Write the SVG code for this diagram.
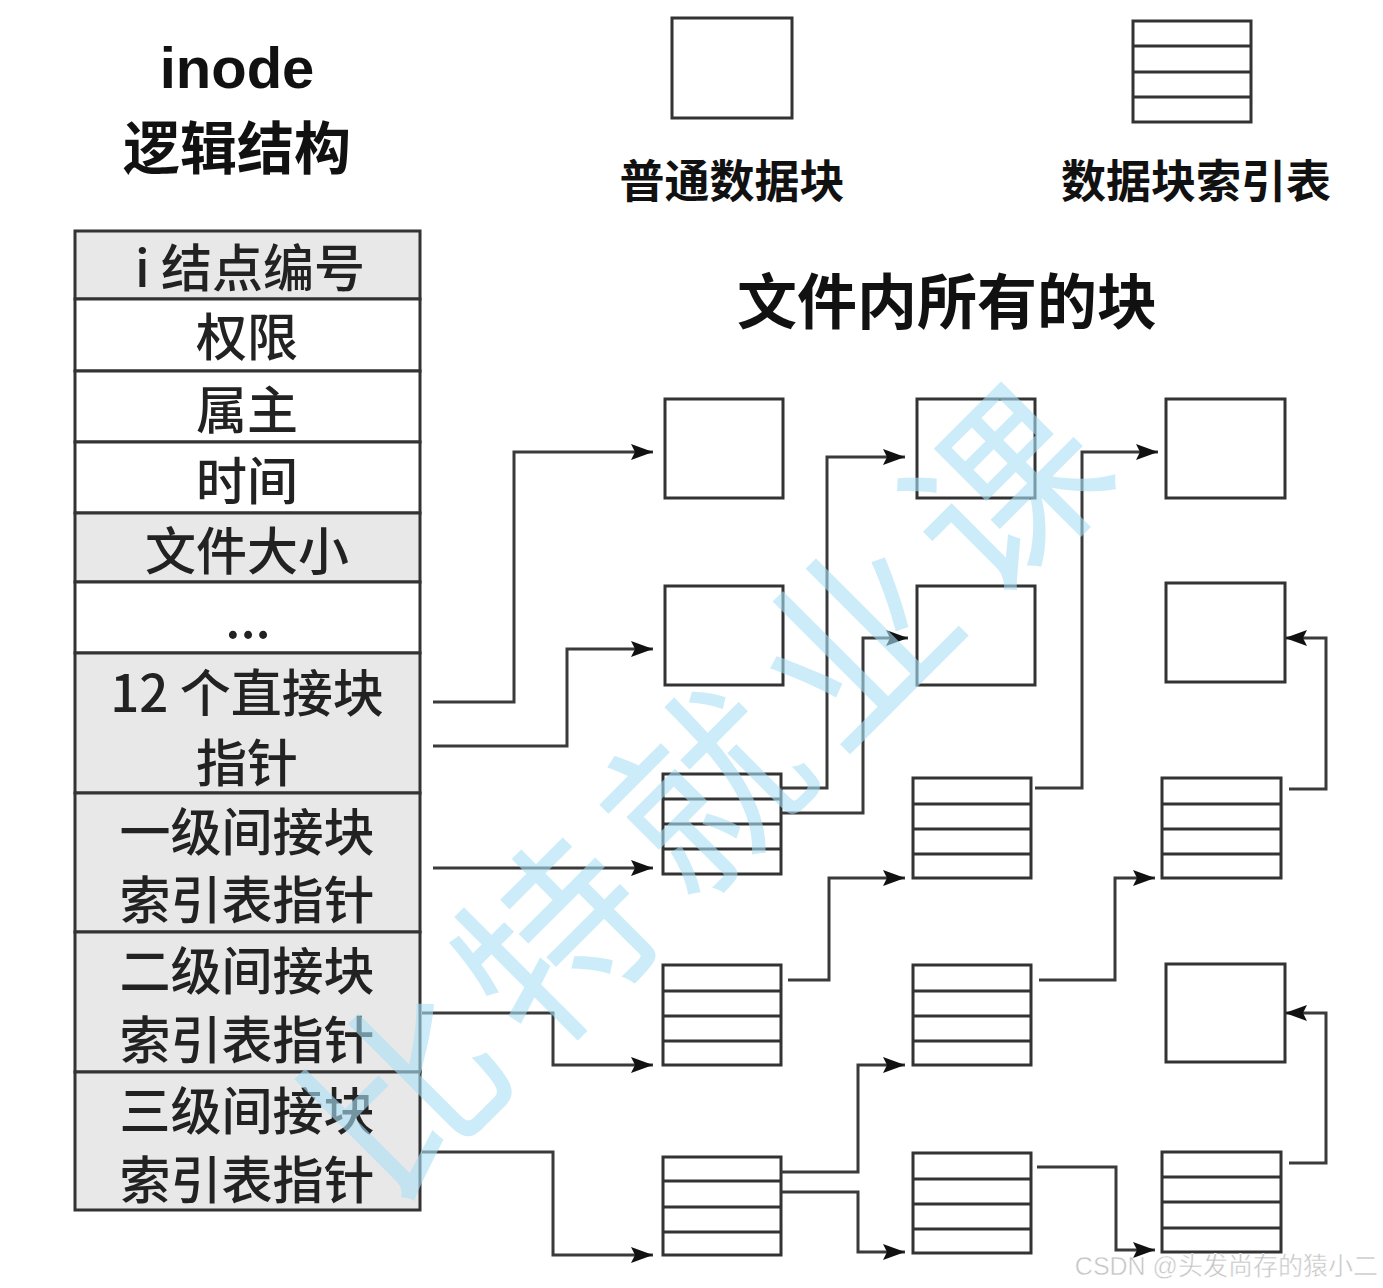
<svg xmlns="http://www.w3.org/2000/svg" width="1383" height="1288" viewBox="0 0 1383 1288">
<defs>
<style>
.cell{stroke:#333;stroke-width:3;}
.g{fill:#e8e8e8;}
.w{fill:#fff;}
.blk{fill:#fff;stroke:#333;stroke-width:3;}
.ln{stroke:#333;stroke-width:3;fill:none;}
.cn{stroke:#3a3a3a;stroke-width:3;fill:none;marker-end:url(#ah);}
.tt{font-family:"Noto Sans CJK SC","Noto Sans",sans-serif;fill:#222;text-anchor:middle;dominant-baseline:central;font-size:51px;font-weight:500;}
.hd{font-family:"Noto Sans CJK SC","Noto Sans",sans-serif;fill:#111;text-anchor:middle;dominant-baseline:central;font-weight:700;}
</style>
<marker id="ah" markerUnits="userSpaceOnUse" markerWidth="22" markerHeight="18" refX="22" refY="9" orient="auto">
<path d="M0,1 L22,9 L0,17 L4,9 z" fill="#111"/>
</marker>
</defs>
<rect width="1383" height="1288" fill="#fff"/>

<g id="title">
<text class="hd" x="237" y="67" font-size="58" style="font-family:'Liberation Sans','Noto Sans',sans-serif">inode</text>
<text class="hd" x="237" y="144" font-size="57">逻辑结构</text>
</g>

<g id="inode-table">
<rect class="cell g" x="75" y="231" width="345" height="68"/>
<rect class="cell w" x="75" y="299" width="345" height="72"/>
<rect class="cell w" x="75" y="371" width="345" height="71"/>
<rect class="cell w" x="75" y="442" width="345" height="71"/>
<rect class="cell g" x="75" y="513" width="345" height="69"/>
<rect class="cell w" x="75" y="582" width="345" height="71"/>
<rect class="cell g" x="75" y="653" width="345" height="140"/>
<rect class="cell g" x="75" y="793" width="345" height="139"/>
<rect class="cell g" x="75" y="932" width="345" height="140"/>
<rect class="cell g" x="75" y="1072" width="345" height="138"/>
<text class="tt" x="250" y="265">i 结点编号</text>
<text class="tt" x="247" y="334">权限</text>
<text class="tt" x="247" y="407">属主</text>
<text class="tt" x="247" y="478">时间</text>
<text class="tt" x="247" y="548">文件大小</text>
<text class="tt" x="248" y="616" font-size="34">...</text>
<text class="tt" x="247" y="690">12 个直接块</text>
<text class="tt" x="247" y="760">指针</text>
<text class="tt" x="247" y="829">一级间接块</text>
<text class="tt" x="247" y="897">索引表指针</text>
<text class="tt" x="247" y="968">二级间接块</text>
<text class="tt" x="247" y="1037">索引表指针</text>
<text class="tt" x="247" y="1108">三级间接块</text>
<text class="tt" x="247" y="1177">索引表指针</text>
</g>

<g id="legend-normal">
<rect class="blk" x="672" y="18" width="120" height="100"/>
<text class="hd" x="732" y="178" font-size="45">普通数据块</text>
</g>
<g id="legend-index">
<rect class="blk" x="1133" y="21" width="118" height="101"/>
<path class="ln" d="M1133,46H1251M1133,72H1251M1133,97H1251"/>
<text class="hd" x="1196" y="178" font-size="45">数据块索引表</text>
</g>

<g id="section-title">
<text class="hd" x="947" y="297" font-size="60">文件内所有的块</text>
</g>

<g id="blocks">
<g id="A1"><rect class="blk" x="665" y="399" width="118" height="99"/></g>
<g id="A2"><rect class="blk" x="665" y="586" width="118" height="99"/></g>
<g id="A3"><rect class="blk" x="663" y="774" width="118" height="100"/><path class="ln" d="M663,799H781M663,824H781M663,849H781"/></g>
<g id="A4"><rect class="blk" x="663" y="965" width="118" height="100"/><path class="ln" d="M663,991H781M663,1016H781M663,1041H781"/></g>
<g id="A5"><rect class="blk" x="663" y="1157" width="118" height="98"/><path class="ln" d="M663,1181H781M663,1207H781M663,1232H781"/></g>

<g id="B1"><rect class="blk" x="917" y="399" width="118" height="99"/></g>
<g id="B2"><rect class="blk" x="917" y="586" width="118" height="99"/></g>
<g id="B3"><rect class="blk" x="913" y="778" width="118" height="100"/><path class="ln" d="M913,804H1031M913,829H1031M913,854H1031"/></g>
<g id="B4"><rect class="blk" x="913" y="965" width="118" height="100"/><path class="ln" d="M913,991H1031M913,1016H1031M913,1041H1031"/></g>
<g id="B5"><rect class="blk" x="913" y="1153" width="118" height="100"/><path class="ln" d="M913,1179H1031M913,1204H1031M913,1229H1031"/></g>

<g id="C1"><rect class="blk" x="1166" y="399" width="119" height="99"/></g>
<g id="C2"><rect class="blk" x="1166" y="583" width="119" height="99"/></g>
<g id="C3"><rect class="blk" x="1162" y="778" width="119" height="100"/><path class="ln" d="M1162,804H1281M1162,829H1281M1162,854H1281"/></g>
<g id="C4"><rect class="blk" x="1166" y="964" width="119" height="98"/></g>
<g id="C5"><rect class="blk" x="1162" y="1152" width="119" height="100"/><path class="ln" d="M1162,1177H1281M1162,1202H1281M1162,1228H1281"/></g>
</g>

<g id="connectors">
<polyline class="cn" points="433,702 514,702 514,452 653,452"/>
<polyline class="cn" points="433,746 567,746 567,649 653,649"/>
<polyline class="cn" points="781,788 827,788 827,457 905,457"/>
<polyline class="cn" points="781,813 863,813 863,638 908,638"/>
<polyline class="cn" points="433,868 653,868"/>
<polyline class="cn" points="422,1013 553,1013 553,1065 653,1065"/>
<polyline class="cn" points="422,1152 553,1152 553,1255 653,1255"/>
<polyline class="cn" points="788,980 829,980 829,878 905,878"/>
<polyline class="cn" points="781,1172 858,1172 858,1065 905,1065"/>
<polyline class="cn" points="781,1192 858,1192 858,1252 905,1252"/>
<polyline class="cn" points="1035,788 1082,788 1082,452 1158,452"/>
<polyline class="cn" points="1289,789 1326,789 1326,638 1285,638"/>
<polyline class="cn" points="1039,980 1115,980 1115,878 1155,878"/>
<polyline class="cn" points="1037,1167 1116,1167 1116,1250 1155,1250"/>
<polyline class="cn" points="1289,1163 1326,1163 1326,1013 1285,1013"/>
</g>

<g id="watermark" opacity="0.6">
<text x="0" y="0" transform="translate(705,775) rotate(-45)" text-anchor="middle" dominant-baseline="central" font-family="'Noto Sans CJK SC',sans-serif" font-weight="400" font-size="190" letter-spacing="22" fill="#a9e0f5">比特就业课</text>
</g>
<g id="csdn-watermark">
<text x="1378" y="1275" text-anchor="end" font-family="'Liberation Sans','Noto Sans CJK SC',sans-serif" font-size="25" fill="#c4c4c4" stroke="#fff" stroke-width="0.5">CSDN @头发尚存的猿小二</text>
</g>
</svg>
